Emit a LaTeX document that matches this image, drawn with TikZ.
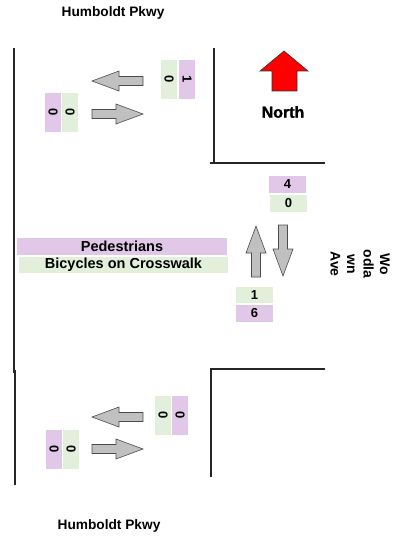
\documentclass[tikz,border=0pt]{standalone}
\usepackage{fontspec}
\setmainfont{Liberation Sans}
\newfontfamily\northfont{Liberation Sans}[BoldFeatures={FakeBold=1.5}]
\usepackage{xcolor}
\usepackage{tikz}
\usetikzlibrary{positioning}
\definecolor{pedpurple}{RGB}{225,200,232}
\definecolor{bikegreen}{RGB}{226,239,218}
\definecolor{shaftgray}{RGB}{192,192,192}
\definecolor{northred}{RGB}{255,0,0}
\tikzset{
    street/.style={line width=1.2pt,draw=black!85},
    tally/.style={rectangle,inner sep=0pt,font=\fontsize{13}{15}\selectfont\bfseries},
    htally/.style={tally,minimum width=37pt,minimum height=16.5pt},
    vtally/.style={tally,rotate=-90,minimum width=39pt,minimum height=16pt},
    ped/.style={fill=pedpurple},
    bike/.style={fill=bikegreen},
    bar/.style={rectangle,inner sep=0pt,minimum width=210pt,minimum height=16.5pt,font=\fontsize{14.5}{16}\selectfont\bfseries},
    streetname/.style={font=\fontsize{13.7}{16}\selectfont\bfseries},
    turnarrow/.pic={\draw[draw=black!70,fill=shaftgray,line width=0.6pt] (0pt,4.5pt) -- (24pt,4.5pt) -- (24pt,10pt) -- (51pt,0pt) -- (24pt,-10pt) -- (24pt,-4.5pt) -- (0pt,-4.5pt) -- cycle;},
}
\begin{document}
\begin{tikzpicture}[x=1pt,y=1pt]
\useasboundingbox (0,0) rectangle (392,-537);
\node[streetname] (hpTop) at (113,-13) {Humboldt Pkwy};
\node[streetname] (hpBot) at (109,-526) {Humboldt Pkwy};
\node[streetname,rotate=-90,align=center,font=\fontsize{14}{16.5}\selectfont\bfseries] (woodlawn) at (360,-264) {Wo\\odla\\wn\\Ave};
\draw[street] (14,-48) -- (14,-373);
\draw[street] (15,-370) -- (15,-485);
\draw[street] (214,-48) -- (214,-163);
\draw[street] (210,-163) -- (325,-163);
\draw[street] (325,-369) -- (211,-369) -- (211,-477);
\draw[draw=black!80,fill=northred,line width=0.6pt] (272,-91) -- (272,-71) -- (260,-71) -- (284,-51) -- (308,-71) -- (297,-71) -- (297,-91) -- cycle;
\node[font=\fontsize{16}{18}\northfont\bfseries] (north) at (283,-112) {North};
\pic at (143,-81) [rotate=180] {turnarrow};
\pic at (92,-114) {turnarrow};
\pic at (143,-417) [rotate=180] {turnarrow};
\pic at (92,-449) {turnarrow};
\pic at (256,-277) [rotate=90] {turnarrow};
\pic at (283,-225) [rotate=-90] {turnarrow};
\node[vtally,bike] (wbBikeTop) at (169,-79.5) {0};
\node[vtally,ped] (wbPedTop) at (187,-79.5) {1};
\node[vtally,ped] (ebPedTop) at (53,-112.5) {0};
\node[vtally,bike] (ebBikeTop) at (70,-112.5) {0};
\node[vtally,bike] (wbBikeBot) at (163,-415.5) {0};
\node[vtally,ped] (wbPedBot) at (180,-415.5) {0};
\node[vtally,ped] (ebPedBot) at (54,-449.5) {0};
\node[vtally,bike] (ebBikeBot) at (71,-449.5) {0};
\node[htally,ped] (sbPed) at (287.5,-184.5) {4};
\node[htally,bike] (sbBike) at (288.5,-203.5) {0};
\node[htally,bike] (nbBike) at (254.5,-295) {1};
\node[htally,ped] (nbPed) at (254.5,-313.5) {6};
\node[bar,ped] (pedBar) at (122,-246.5) {Pedestrians};
\node[bar,bike,minimum width=209pt] (bikeBar) at (123.5,-265) {Bicycles on Crosswalk};
\end{tikzpicture}
\end{document}
